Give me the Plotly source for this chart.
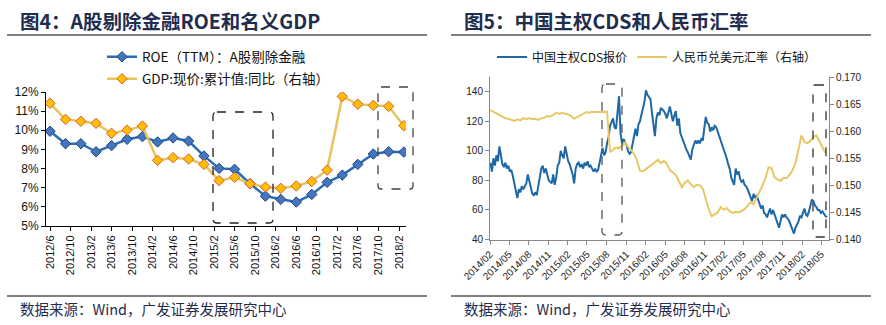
import plotly.graph_objects as go
import pandas as pd

# ---------------- data: left chart (quarterly) ----------------
q_dates = ["2012-06-01","2012-09-01","2012-12-01","2013-03-01","2013-06-01","2013-09-01",
           "2013-12-01","2014-03-01","2014-06-01","2014-09-01","2014-12-01","2015-03-01",
           "2015-06-01","2015-09-01","2015-12-01","2016-03-01","2016-06-01","2016-09-01",
           "2016-12-01","2017-03-01","2017-06-01","2017-09-01","2017-12-01","2018-03-01"]
roe = [9.95, 9.30, 9.30, 8.88, 9.20, 9.53, 9.67, 9.39, 9.60, 9.44, 8.66, 8.01,
       7.96, 7.21, 6.56, 6.39, 6.25, 6.65, 7.28, 7.66, 8.22, 8.76, 8.88, 8.86]
gdp = [11.41, 10.57, 10.47, 10.36, 9.84, 10.01, 10.22, 8.43, 8.57, 8.50, 8.22, 7.37,
       7.54, 7.21, 7.03, 6.97, 7.09, 7.33, 7.92, 11.77, 11.36, 11.30, 11.25, 10.24]
left_ticks = [5, 6, 7, 8, 9, 10, 11, 12]
left_tick_text = ["5%", "6%", "7%", "8%", "9%", "10%", "11%", "12%"]

# ---------------- data: right chart (weekly) ----------------
cds = [92, 86, 95, 90, 97, 93, 103, 95, 91, 89, 92, 88, 90, 86, 87, 83, 78, 72, 68, 74,
       72, 76, 74, 76, 78, 84, 80, 74, 71, 70, 72, 70, 75, 82, 88, 90, 85, 88, 84, 80,
       79, 78, 84, 77, 82, 90, 92, 100, 97, 95, 103, 98, 93, 91, 88, 84, 78, 88, 91, 92,
       89, 91, 88, 92, 90, 93, 89, 90, 88, 86, 88, 86, 87, 92, 99, 102, 97, 99, 105, 109,
       117, 120, 122, 116, 115, 126, 137, 112, 105, 108, 106, 104, 100, 98, 99, 104, 110, 115, 110, 118,
       120, 126, 129, 133, 141, 138, 136, 135, 126, 118, 110, 122, 126, 124, 129, 128, 127, 125, 122, 126,
       130, 125, 120, 124, 127, 117, 122, 112, 109, 106, 104, 101, 99, 97, 94, 101, 104, 107, 105, 107,
       105, 108, 107, 114, 123, 119, 118, 113, 116, 114, 117, 116, 113, 111, 108, 105, 102, 98, 95, 91,
       88, 82, 79, 77, 88, 84, 86, 81, 79, 80, 77, 76, 74, 71, 68, 66, 71, 68, 70, 66,
       64, 61, 63, 58, 57, 55, 58, 61, 57, 60, 57, 53, 51, 48, 52, 57, 55, 57, 55, 54,
       52, 49, 47, 44, 48, 50, 52, 56, 55, 58, 61, 57, 56, 59, 63, 67, 66, 63, 62, 60,
       60, 58, 59, 57, 56, 55]
fx = [0.1639, 0.1636, 0.1632, 0.1629, 0.1626, 0.1624, 0.1623, 0.1621, 0.1619, 0.1622,
      0.1620, 0.1624, 0.1622, 0.1624, 0.1622, 0.1623, 0.1621, 0.1624, 0.1625, 0.1628,
      0.1627, 0.1630, 0.1634, 0.1632, 0.1634, 0.1632, 0.1631, 0.1628, 0.1623, 0.1626,
      0.1629, 0.1633, 0.1635, 0.1634, 0.1636, 0.1635, 0.1636, 0.1635, 0.1636, 0.1636,
      0.1561, 0.1566, 0.1570, 0.1568, 0.1574, 0.1579, 0.1571, 0.1566, 0.1558, 0.1546,
      0.1527, 0.1526, 0.1530, 0.1534, 0.1538, 0.1543, 0.1547, 0.1541, 0.1545, 0.1540,
      0.1528, 0.1524, 0.1519, 0.1508, 0.1497, 0.1505, 0.1509, 0.1502, 0.1497, 0.1501,
      0.1500, 0.1494, 0.1475, 0.1456, 0.1443, 0.1446, 0.1450, 0.1460, 0.1455, 0.1458,
      0.1452, 0.1449, 0.1451, 0.1450, 0.1453, 0.1456, 0.1462, 0.1469, 0.1465, 0.1476,
      0.1486, 0.1500, 0.1514, 0.1533, 0.1532, 0.1515, 0.1511, 0.1508, 0.1514, 0.1513,
      0.1519, 0.1528, 0.1541, 0.1566, 0.1592, 0.1580, 0.1578, 0.1582, 0.1590, 0.1592,
      0.1581, 0.1571, 0.1560]
weeks = pd.date_range("2014-02-03", periods=len(cds), freq="7D")
fx_dates = weeks[::2][:len(fx)]
cds_ticks = [40, 60, 80, 100, 120, 140]
fx_ticks = [0.140, 0.145, 0.150, 0.155, 0.160, 0.165, 0.170]

# ---------------- layout helpers ----------------
W, H = 886, 325
def px(x): return x / W
def py(y): return 1 - y / H

NAVY = "#1F2D4E"
FONT = "Liberation Sans, Arial, Noto Sans CJK SC, sans-serif"
CJK = "Noto Sans CJK SC, Liberation Sans, sans-serif"

fig = go.Figure()

# Left chart
fig.add_trace(go.Scatter(
    x=q_dates, y=roe, mode="lines+markers", name="ROE（TTM）：A股剔除金融",
    line=dict(color="#2A6DB5", width=2.5),
    marker=dict(symbol="diamond", size=8, color="#4576BD", line=dict(color="#1E4683", width=1)),
    xaxis="x", yaxis="y", legend="legend"))
fig.add_trace(go.Scatter(
    x=q_dates, y=gdp, mode="lines+markers", name="GDP:现价:累计值:同比（右轴）",
    line=dict(color="#E8C35E", width=2.5),
    marker=dict(symbol="diamond", size=8, color="#FFC000", line=dict(color="#E0583A", width=1)),
    xaxis="x", yaxis="y2", legend="legend3"))

# Right chart
fig.add_trace(go.Scatter(
    x=weeks, y=cds, mode="lines", name="中国主权CDS报价",
    line=dict(color="#1F68A6", width=2), xaxis="x2", yaxis="y3", legend="legend2"))
fig.add_trace(go.Scatter(
    x=fx_dates, y=fx, mode="lines", name="人民币兑美元汇率（右轴）",
    line=dict(color="#E8C766", width=2), xaxis="x2", yaxis="y4", legend="legend2"))

tickfont = dict(family=FONT, size=11, color="#111")
tickfont_r = dict(family=FONT, size=10, color="#222")
legfont = dict(family=CJK, size=13.5, color="#111")

fig.update_layout(
    width=W, height=H, margin=dict(l=0, r=0, t=0, b=0, autoexpand=False),
    paper_bgcolor="white", plot_bgcolor="white", showlegend=True,
    xaxis=dict(domain=[px(46), px(406)], type="date", automargin=False,
               range=["2012-05-08", "2018-03-14"], tick0="2012-06-01", dtick="M4",
               tickformat="%Y/%-m", tickangle=-90, showgrid=False, zeroline=False,
               showline=True, linecolor="#000", linewidth=1, ticks="outside",
               ticklen=4, tickcolor="#000", tickfont=tickfont, anchor="y"),
    yaxis=dict(domain=[py(226), py(92)], range=[5, 12], tickmode="array", automargin=False,
               tickvals=left_ticks, ticktext=left_tick_text,
               showgrid=False, zeroline=False, showline=True,
               linecolor="#000", linewidth=1, ticks="outside", ticklen=4,
               tickcolor="#000", tickfont=dict(family=FONT, size=12, color="#111"), anchor="x"),
    yaxis2=dict(domain=[py(226), py(92)], range=[5, 12], overlaying="y", side="right",
                showticklabels=False, showgrid=False, zeroline=False, showline=False,
                automargin=False, anchor="x"),
    xaxis2=dict(domain=[px(490), px(829)], type="date", automargin=False,
                range=["2014-02-01", "2018-06-07"], tick0="2014-02-01", dtick="M3",
                tickformat="%Y/%m", tickangle=-45, showgrid=False, zeroline=False,
                showline=True, linecolor="#888", linewidth=1, ticks="outside",
                ticklen=4, tickcolor="#888", tickfont=tickfont_r, anchor="y3"),
    yaxis3=dict(domain=[py(239.5), py(77)], range=[40, 150], tickvals=cds_ticks,
                showgrid=False, zeroline=False, showline=True, linecolor="#888",
                linewidth=1, ticks="outside", ticklen=4, tickcolor="#888",
                automargin=False, tickfont=tickfont_r, anchor="x2"),
    yaxis4=dict(domain=[py(239.5), py(77)], range=[0.140, 0.170], tickvals=fx_ticks,
                tickformat=".3f", overlaying="y3", side="right", showgrid=False,
                zeroline=False, showline=True, linecolor="#888", linewidth=1,
                ticks="outside", ticklen=4, tickcolor="#888", tickfont=tickfont_r,
                automargin=False, anchor="x2"),
    legend=dict(x=px(102), y=py(57), xanchor="left", yanchor="middle", orientation="v",
                bgcolor="rgba(0,0,0,0)", font=legfont, itemwidth=30),
    legend3=dict(x=px(102), y=py(79), xanchor="left", yanchor="middle", orientation="v",
                 bgcolor="rgba(0,0,0,0)", font=legfont, itemwidth=30),
    legend2=dict(x=px(492), y=py(57), xanchor="left", yanchor="middle", orientation="h",
                 bgcolor="rgba(0,0,0,0)", font=dict(family=CJK, size=12, color="#111"),
                 itemwidth=30),
)

shapes = []
# title / footer rules
for x0, x1 in [(7, 427), (451, 871)]:
    shapes.append(dict(type="line", xref="paper", yref="paper", x0=px(x0), x1=px(x1),
                       y0=py(35), y1=py(35), line=dict(color="#000", width=1.2)))
    shapes.append(dict(type="line", xref="paper", yref="paper", x0=px(x0), x1=px(x1),
                       y0=py(296), y1=py(296), line=dict(color="#000", width=1.2)))

def rrect(x0, y0, x1, y1, r, color):
    p = (f"M {px(x0+r)},{py(y0)} L {px(x1-r)},{py(y0)} Q {px(x1)},{py(y0)} {px(x1)},{py(y0+r)} "
         f"L {px(x1)},{py(y1-r)} Q {px(x1)},{py(y1)} {px(x1-r)},{py(y1)} "
         f"L {px(x0+r)},{py(y1)} Q {px(x0)},{py(y1)} {px(x0)},{py(y1-r)} "
         f"L {px(x0)},{py(y0+r)} Q {px(x0)},{py(y0)} {px(x0+r)},{py(y0)} Z")
    return dict(type="path", xref="paper", yref="paper", path=p,
                line=dict(color=color, width=1.3, dash="dash"))

shapes.append(rrect(213, 112, 273, 223, 4, "#222"))
shapes.append(rrect(378, 87, 413, 189, 3, "#444"))
shapes.append(rrect(602, 84, 622, 235, 4, "#555"))
shapes.append(rrect(813, 85, 826, 237, 2, "#333"))
fig.update_layout(shapes=shapes)

ann = []
ann.append(dict(text="<b>图4：A股剔除金融ROE和名义GDP</b>", x=px(18), y=py(20),
                xref="paper", yref="paper", xanchor="left", yanchor="middle",
                showarrow=False, font=dict(family=CJK, size=19.5, color=NAVY)))
ann.append(dict(text="<b>图5：中国主权CDS和人民币汇率</b>", x=px(462), y=py(20),
                xref="paper", yref="paper", xanchor="left", yanchor="middle",
                showarrow=False, font=dict(family=CJK, size=19.5, color=NAVY)))
for x in (18, 462):
    ann.append(dict(text="数据来源：Wind，广发证券发展研究中心", x=px(x), y=py(308),
                    xref="paper", yref="paper", xanchor="left", yanchor="middle",
                    showarrow=False, font=dict(family=CJK, size=14.5, color=NAVY)))
fig.update_layout(annotations=ann)

fig.write_html("out.html")
